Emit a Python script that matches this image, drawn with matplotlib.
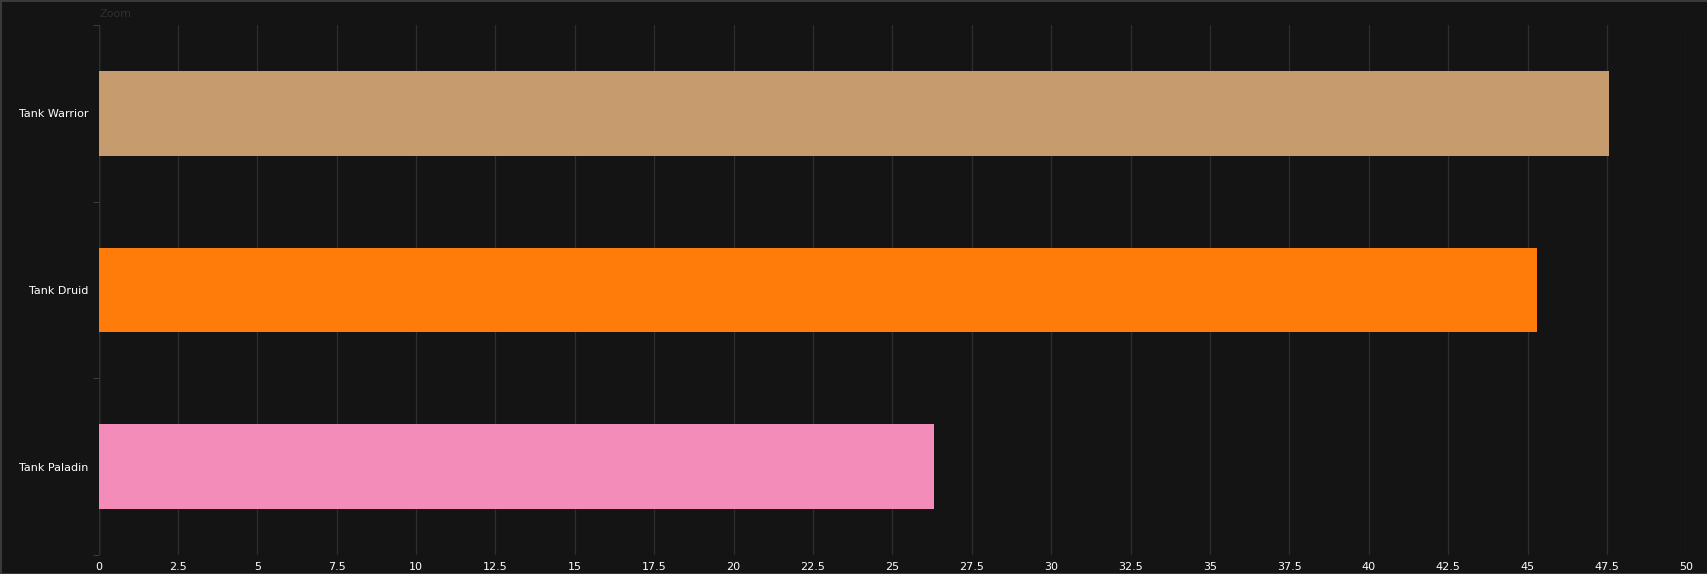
import numpy as np
import matplotlib
matplotlib.use("Agg")
import matplotlib.pyplot as plt

classes = ["Tank Warrior", "Tank Druid", "Tank Paladin"]
values = [47.57, 45.30, 26.30]
colors = ["#C69B6D", "#FF7C0A", "#F48CBA"]
xticks = np.arange(0, 50.1, 2.5)
xlabels = ["%g" % t for t in xticks]

bg = "#141414"
fig = plt.figure(figsize=(17.08, 5.74), dpi=100, facecolor=bg,
                 edgecolor="#3a3a3a", linewidth=2)
ax = fig.add_axes([0.0577, 0.0331, 0.9296, 0.9233])
ax.set_facecolor(bg)

y = np.arange(len(classes))
ax.barh(y, values, height=0.48, color=colors, zorder=3)

ax.set_xlim(0, 50)
ax.set_ylim(len(classes) - 0.5, -0.5)
ax.set_xticks(xticks)
ax.set_xticklabels(xlabels)
ax.set_yticks(y)
ax.set_yticklabels(classes)
ax.set_yticks(np.arange(len(classes) + 1) - 0.5, minor=True)

ax.grid(axis="x", color="#2e2e2e", linewidth=0.9, zorder=0)
ax.axvline(0, color="#444444", linewidth=1, zorder=1)
for s in ax.spines.values():
    s.set_visible(False)

ax.tick_params(axis="x", length=0, pad=5, colors="white", labelsize=8)
ax.tick_params(axis="y", which="major", length=0, pad=7, colors="white", labelsize=8)
ax.tick_params(axis="y", which="minor", length=4, color="#444444")
for lbl in ax.get_xticklabels() + ax.get_yticklabels():
    lbl.set_fontweight("medium")

fig.text(0.058, 0.985, "Zoom", color="#303030", fontsize=8, va="top", ha="left")

fig.savefig("out.png", dpi=100, facecolor=bg, edgecolor="#3a3a3a")
